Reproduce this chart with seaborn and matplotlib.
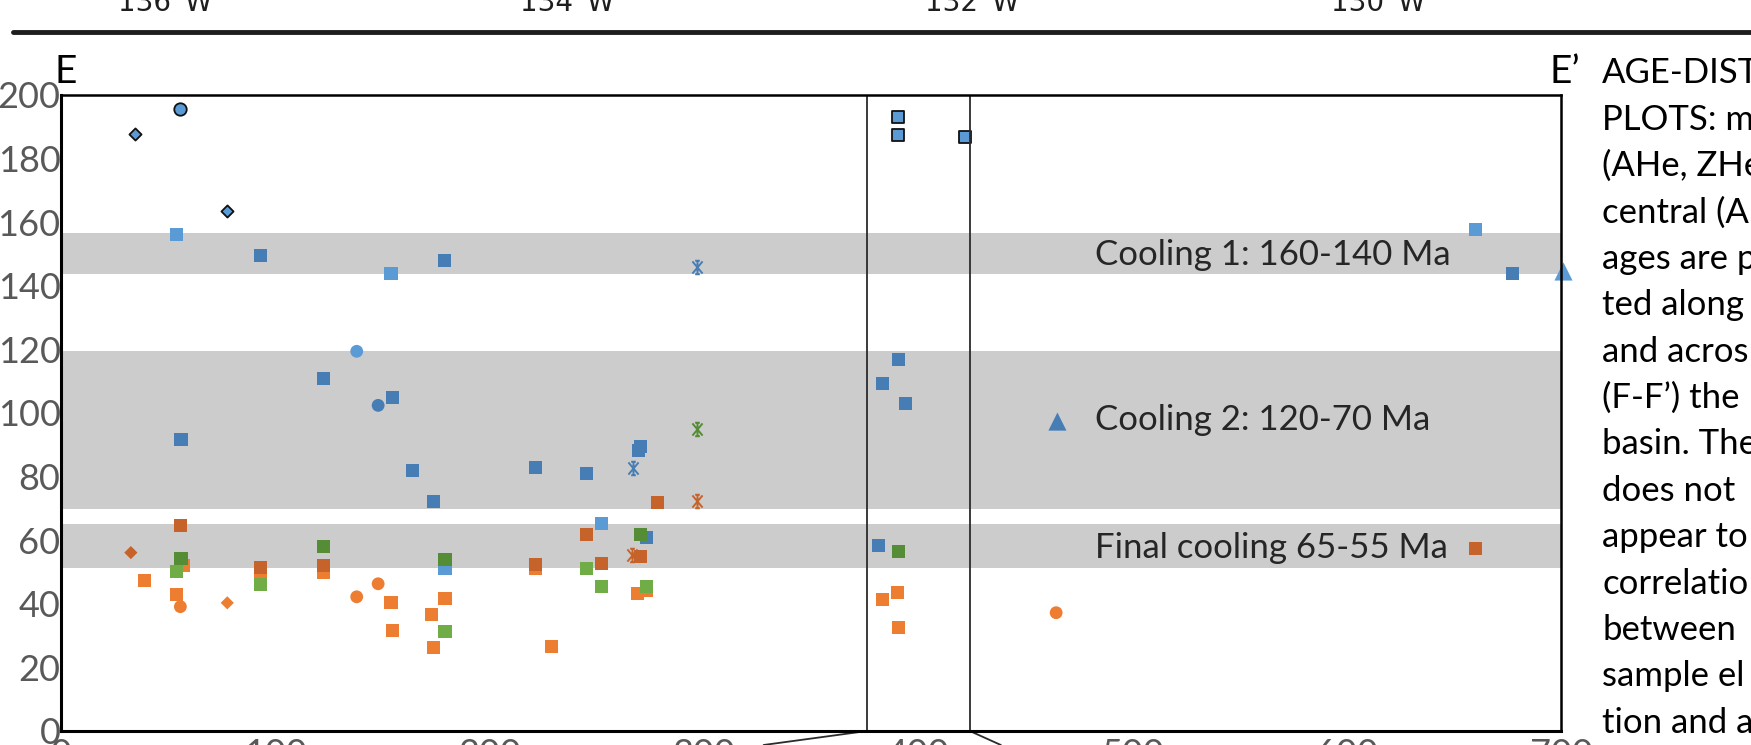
import matplotlib
matplotlib.use("Agg")
import matplotlib.pyplot as plt
from matplotlib.path import Path
from matplotlib.lines import Line2D
import seaborn as sns

# ---- samples: distance along section E-E' (km) and cooling age (Ma) ----
zhe_diamond_x = [34.4, 77.6]
zhe_diamond_y = [187.6, 163.5]
zhe_circle_x = [55.7]
zhe_circle_y = [195.7]
zhe_square_x = [390.5, 390.5, 421.9]
zhe_square_y = [193.2, 187.5, 186.7]

blue_light_sq_x = [53.7, 154.0, 179.2, 252.1, 660.2]
blue_light_sq_y = [156.2, 143.9, 51.2, 65.2, 157.8]
blue_dark_sq_x = [93.1, 179.0, 122.3, 154.6, 56.0, 163.9, 173.9, 221.6, 245.3,
                  270.5, 269.4, 273.2, 383.5, 390.9, 393.9, 381.7, 677.2]
blue_dark_sq_y = [149.6, 148.0, 110.9, 104.9, 91.7, 82.0, 72.1, 83.0, 80.9,
                  89.4, 88.1, 60.8, 109.3, 116.9, 103.0, 58.3, 143.9]
blue_light_circle_x = [138.0]
blue_light_circle_y = [119.4]
blue_dark_circle_x = [148.0]
blue_dark_circle_y = [102.4]
blue_triangle_x = [700.8]
blue_triangle_y = [144.5]
blue_dark_triangle_x = [465.0]
blue_dark_triangle_y = [97.3]
blue_star_x = [266.9, 296.9]
blue_star_y = [82.8, 146.0]
green_star_x = [296.9]
green_star_y = [94.9]
rust_star_x = [296.9, 266.6]
rust_star_y = [72.4, 55.3]

orange_sq_x = [57.0, 38.9, 53.7, 93.1, 122.3, 154.0, 154.6, 172.8, 173.9, 179.2,
               221.6, 228.7, 269.1, 273.2, 390.5, 383.5, 390.9]
orange_sq_y = [52.0, 47.2, 42.8, 50.0, 50.0, 40.3, 31.5, 36.6, 26.3, 41.7,
               51.0, 26.7, 43.1, 44.3, 43.5, 41.4, 32.4]
rust_sq_x = [55.7, 93.1, 122.3, 221.6, 245.3, 252.1, 270.5, 278.5, 660.2]
rust_sq_y = [64.6, 51.5, 51.9, 52.3, 61.8, 52.6, 55.0, 72.0, 57.4]
orange_circle_x = [55.7, 148.0, 138.0, 464.4]
orange_circle_y = [39.1, 46.3, 42.2, 37.2]
orange_diamond_x = [77.6]
orange_diamond_y = [40.3]
rust_diamond_x = [32.6]
rust_diamond_y = [56.1]
green_light_sq_x = [53.7, 93.1, 179.2, 245.3, 252.1, 273.2]
green_light_sq_y = [50.3, 46.2, 31.2, 51.0, 45.4, 45.4]
green_dark_sq_x = [56.0, 122.3, 179.2, 270.5, 390.9]
green_dark_sq_y = [54.3, 57.9, 54.0, 61.8, 56.4]

# cooling episodes (Ma)
band_low = [143.6, 69.7, 51.2]
band_high = [156.5, 119.6, 65.2]
band_labels = ["Cooling 1: 160-140 Ma", "Cooling 2: 120-70 Ma", "Final cooling 65-55 Ma"]
band_label_y = [146.5, 94.7, 54.3]
band_label_x = 482.5

x_ticks = [0, 100, 200, 300, 400, 500, 600, 700]
y_ticks = [0, 20, 40, 60, 80, 100, 120, 140, 160, 180, 200]
lon_labels = ["136°W", "134°W", "132°W", "130°W"]
lon_label_px = [165, 567, 972, 1378]
inset_x = [376.1, 424.1]

caption = ["AGE-DIST", "PLOTS: m", "(AHe, ZHe", "central (A", "ages are p",
           "ted along", "and acros", "(F-F’) the", "basin. The", "does not",
           "appear to", "correlatio", "between", "sample el", "tion and a"]

BLUE_L = "#5b9bd5"
BLUE_D = "#477db5"
ORANGE = "#ed7d31"
RUST = "#c6632b"
GREEN_L = "#70ad47"
GREEN_D = "#558d37"
BAND = "#cccccc"

sns.set_theme(style="white")
plt.rcParams["font.family"] = ["Lato", "DejaVu Sans"]

W, H = 1751, 745
fig = plt.figure(figsize=(W / 100, H / 100), dpi=100)
ax = fig.add_axes([61 / W, 14 / H, 1500 / W, 636 / H])
ax.set_xlim(0, 700)
ax.set_ylim(0, 200)

for lo, hi in zip(band_low, band_high):
    ax.axhspan(lo, hi, color=BAND, lw=0, zorder=0)
for lab, yb in zip(band_labels, band_label_y):
    ax.text(band_label_x, yb, lab, fontsize=25, color="#262626",
            va="baseline", ha="left", zorder=2)

# asterisk marker: X, vertical stroke and short caps
star = Path(
    [(0, -1), (0, 1), (-0.75, -0.9), (0.75, 0.9), (-0.75, 0.9), (0.75, -0.9),
     (-0.35, 1), (0.35, 1), (-0.35, -1), (0.35, -1)],
    [Path.MOVETO, Path.LINETO] * 5,
)

series = [
    (blue_light_sq_x, blue_light_sq_y, "s", BLUE_L, 88, "none", 0),
    (blue_dark_sq_x, blue_dark_sq_y, "s", BLUE_D, 88, "none", 0),
    (blue_light_circle_x, blue_light_circle_y, "o", BLUE_L, 85, "none", 0),
    (blue_dark_circle_x, blue_dark_circle_y, "o", BLUE_D, 85, "none", 0),
    (blue_dark_triangle_x, blue_dark_triangle_y, "^", BLUE_D, 170, "none", 0),
    (orange_sq_x, orange_sq_y, "s", ORANGE, 88, "none", 0),
    (rust_sq_x, rust_sq_y, "s", RUST, 88, "none", 0),
    (green_light_sq_x, green_light_sq_y, "s", GREEN_L, 88, "none", 0),
    (green_dark_sq_x, green_dark_sq_y, "s", GREEN_D, 88, "none", 0),
    (orange_circle_x, orange_circle_y, "o", ORANGE, 85, "none", 0),
    (orange_diamond_x, orange_diamond_y, "D", ORANGE, 45, "none", 0),
    (rust_diamond_x, rust_diamond_y, "D", RUST, 45, "none", 0),
    (zhe_diamond_x, zhe_diamond_y, "D", BLUE_L, 38, "#111111", 1.3),
    (zhe_circle_x, zhe_circle_y, "o", BLUE_L, 80, "#111111", 1.3),
    (zhe_square_x, zhe_square_y, "s", BLUE_L, 78, "#111111", 1.3),
    (blue_star_x, blue_star_y, star, BLUE_D, 95, BLUE_D, 1.4),
    (green_star_x, green_star_y, star, GREEN_D, 95, GREEN_D, 1.4),
    (rust_star_x, rust_star_y, star, RUST, 95, RUST, 1.4),
]
for xs, ys, m, c, s, ec, lw in series:
    sns.scatterplot(x=xs, y=ys, marker=m, color=c, s=s, edgecolor=ec,
                    linewidth=lw, ax=ax, legend=False, zorder=3)
sns.scatterplot(x=blue_triangle_x, y=blue_triangle_y, marker="^", color=BLUE_L,
                s=170, linewidth=0, ax=ax, legend=False, zorder=3, clip_on=False)

# zoom box around the 380-425 km segment
for xv in inset_x:
    ax.axvline(xv, color="#2b2b2b", lw=1.3, zorder=4)
ax.plot([inset_x[0], 327.9], [0, -4.4], color="#2b2b2b", lw=1.3, clip_on=False)
ax.plot([inset_x[1], 438.6], [0, -4.4], color="#2b2b2b", lw=1.3, clip_on=False)

ax.set_xticks(x_ticks)
ax.set_yticks(y_ticks)
ax.tick_params(axis="x", direction="in", length=7, width=1, color="#d0d0d0",
               labelsize=26, labelcolor="#595959", pad=5)
ax.tick_params(axis="y", length=0, labelsize=26, labelcolor="#595959", pad=0.3)
ax.set_xlabel("")
ax.set_ylabel("")
for side, lw in [("left", 2.2), ("bottom", 2.2), ("top", 1.8), ("right", 1.8)]:
    ax.spines[side].set_visible(True)
    ax.spines[side].set_color("black")
    ax.spines[side].set_linewidth(lw)
    ax.spines[side].set_zorder(5)

# section end labels
fig.text(55 / W, 1 - 83 / H, "E", fontsize=28, color="black", va="baseline")
fig.text(1549 / W, 1 - 83 / H, "E’", fontsize=28, color="black", va="baseline")

# longitude strip above the section
fig.add_artist(Line2D([13 / W, 1], [1 - 31.5 / H, 1 - 31.5 / H], color="#1e1e1e", lw=3.5))
for lab, px in zip(lon_labels, lon_label_px):
    fig.text(px / W, 1 - 10.7 / H, lab, fontsize=20, ha="center", va="baseline",
             color="#1e1e1e", family=["Liberation Sans Narrow", "DejaVu Sans"])

# side caption
for i, line in enumerate(caption):
    fig.text(1602 / W, 1 - (83.3 + 46.4 * i) / H, line, fontsize=25,
             color="black", va="baseline", ha="left")

fig.savefig("out.png", dpi=100)
